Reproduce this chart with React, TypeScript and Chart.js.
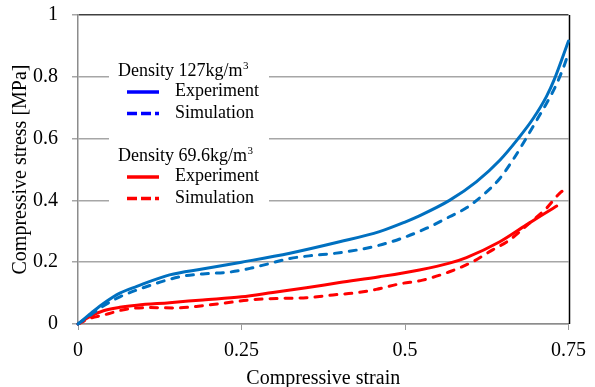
import { useEffect, useRef } from "react";
import { Chart, registerables } from "chart.js";

Chart.register(...registerables);

const FONT = '"Liberation Serif", "Times New Roman", serif';

// Density 127 kg/m3
const blueExpStrain = [0, 0.02, 0.04, 0.064, 0.09, 0.14, 0.19, 0.25, 0.324, 0.4, 0.461, 0.5, 0.522, 0.568, 0.609, 0.645, 0.673, 0.696, 0.716, 0.728, 0.75];
const blueExpStress = [0, 0.035, 0.068, 0.1, 0.122, 0.159, 0.178, 0.2, 0.229, 0.266, 0.299, 0.33, 0.35, 0.4, 0.46, 0.53, 0.6, 0.665, 0.735, 0.79, 0.916];
const blueSimStrain = [0, 0.02, 0.04, 0.064, 0.09, 0.156, 0.191, 0.232, 0.263, 0.288, 0.324, 0.36, 0.39, 0.428, 0.459, 0.492, 0.533, 0.568, 0.594, 0.619, 0.645, 0.665, 0.685, 0.706, 0.718, 0.731, 0.744, 0.748];
const blueSimStress = [0, 0.03, 0.06, 0.088, 0.11, 0.153, 0.162, 0.168, 0.18, 0.193, 0.212, 0.222, 0.228, 0.24, 0.254, 0.275, 0.31, 0.347, 0.376, 0.417, 0.471, 0.531, 0.6, 0.676, 0.72, 0.773, 0.84, 0.865];

// Density 69.6 kg/m3
const redExpStrain = [0, 0.018, 0.039, 0.064, 0.09, 0.14, 0.191, 0.25, 0.298, 0.349, 0.4, 0.461, 0.522, 0.568, 0.594, 0.645, 0.685, 0.726, 0.732];
const redExpStress = [0, 0.024, 0.043, 0.054, 0.061, 0.069, 0.078, 0.088, 0.102, 0.117, 0.134, 0.153, 0.175, 0.197, 0.215, 0.266, 0.32, 0.374, 0.382];
const redSimStrain = [0, 0.018, 0.039, 0.074, 0.11, 0.151, 0.181, 0.222, 0.263, 0.314, 0.349, 0.39, 0.426, 0.456, 0.492, 0.527, 0.568, 0.604, 0.634, 0.66, 0.69, 0.716, 0.736, 0.747];
const redSimStress = [0, 0.018, 0.029, 0.048, 0.053, 0.052, 0.057, 0.067, 0.078, 0.083, 0.085, 0.094, 0.101, 0.112, 0.13, 0.142, 0.169, 0.202, 0.24, 0.272, 0.326, 0.374, 0.422, 0.44];

const xTicks = [0, 0.25, 0.5, 0.75];
const xTickLabels = ["0", "0.25", "0.5", "0.75"];
const yTicks = [0, 0.2, 0.4, 0.6, 0.8, 1];
const yTickLabels = ["0", "0.2", "0.4", "0.6", "0.8", "1"];

const legendGroups = [
  { header: "Density 127kg/m", sup: "3", color: "#0000FF", items: ["Experiment", "Simulation"] },
  { header: "Density 69.6kg/m", sup: "3", color: "#FF0000", items: ["Experiment", "Simulation"] },
];

const BLUE = "#0070C0";
const RED = "#FF0000";

function pts(xs: number[], ys: number[]) {
  return xs.map((x, i) => ({ x, y: ys[i] }));
}

const overlayPlugin = {
  id: "overlay",
  beforeDatasetsDraw(chart: any) {
    const ctx = chart.ctx as CanvasRenderingContext2D;
    const { top, bottom, right } = chart.chartArea;
    ctx.save();
    // right border
    ctx.strokeStyle = "#000";
    ctx.lineWidth = 1.5;
    ctx.beginPath();
    ctx.moveTo(Math.round(right) + 0.5, top);
    ctx.lineTo(Math.round(right) + 0.5, bottom);
    ctx.stroke();

    // legend box
    ctx.fillStyle = "#fff";
    ctx.fillRect(109, 62, 160, 146);

    const groupTop = [76, 161];
    legendGroups.forEach((g, gi) => {
      const base = groupTop[gi];
      ctx.fillStyle = "#000";
      ctx.font = `18px ${FONT}`;
      ctx.textAlign = "left";
      ctx.textBaseline = "alphabetic";
      ctx.fillText(g.header, 118, base);
      const w = ctx.measureText(g.header).width;
      ctx.font = `11px ${FONT}`;
      ctx.fillText(g.sup, 118 + w + 0.5, base - 7);
      g.items.forEach((label, ii) => {
        const by = base + 20 + ii * 21.5;
        const ly = by - 4;
        ctx.strokeStyle = g.color;
        ctx.lineWidth = 3.5;
        ctx.lineCap = "butt";
        ctx.setLineDash(ii === 0 ? [] : [10, 4]);
        ctx.beginPath();
        ctx.moveTo(127, ly);
        ctx.lineTo(159, ly);
        ctx.stroke();
        ctx.setLineDash([]);
        ctx.fillStyle = "#000";
        ctx.font = `18px ${FONT}`;
        ctx.fillText(label, 175, by);
      });
    });
    ctx.restore();
  },
};

export default function App() {
  const canvasRef = useRef<HTMLCanvasElement | null>(null);

  useEffect(() => {
    document.body.style.margin = "0";
    const canvas = canvasRef.current;
    if (!canvas) return;
    const common = {
      pointRadius: 0,
      borderWidth: 3,
      fill: false,
      cubicInterpolationMode: "monotone" as const,
      borderCapStyle: "round" as const,
      borderJoinStyle: "round" as const,
    };
    const chart = new Chart(canvas, {
      type: "line",
      data: {
        datasets: [
          { ...common, label: "127 Experiment", data: pts(blueExpStrain, blueExpStress), borderColor: BLUE },
          { ...common, label: "127 Simulation", data: pts(blueSimStrain, blueSimStress), borderColor: BLUE, borderDash: [7, 8] },
          { ...common, label: "69.6 Experiment", data: pts(redExpStrain, redExpStress), borderColor: RED },
          { ...common, label: "69.6 Simulation", data: pts(redSimStrain, redSimStress), borderColor: RED, borderDash: [7, 8] },
        ],
      },
      options: {
        animation: false,
        responsive: false,
        devicePixelRatio: 1,
        clip: false as any,
        layout: { padding: { left: 0, right: 26, top: 15, bottom: 0 } },
        plugins: { legend: { display: false }, tooltip: { enabled: false } },
        scales: {
          x: {
            type: "linear",
            min: 0,
            max: 0.75,
            afterBuildTicks: (s: any) => {
              s.ticks = xTicks.map((v) => ({ value: v }));
            },
            afterFit: (s: any) => {
              s.height = 63;
            },
            ticks: {
              padding: 9,
              color: "#000",
              font: { family: FONT, size: 20 },
              maxRotation: 0,
              callback: (v: any) => {
                const i = xTicks.indexOf(Number(v));
                return i >= 0 ? xTickLabels[i] : "";
              },
            },
            grid: { drawOnChartArea: false, drawTicks: true, tickLength: 6, color: "#9a9a9a" },
            border: { color: "#8c8c8c", width: 1.5 },
            title: {
              display: true,
              text: "Compressive strain",
              color: "#000",
              font: { family: FONT, size: 20 },
              padding: { top: 0, bottom: -4 },
            },
          },
          y: {
            type: "linear",
            min: 0,
            max: 1,
            afterBuildTicks: (s: any) => {
              s.ticks = yTicks.map((v) => ({ value: v }));
            },
            afterFit: (s: any) => {
              s.width = 78;
              s.paddingTop = 0;
              s.paddingBottom = 0;
            },
            ticks: {
              padding: 14,
              color: "#000",
              font: { family: FONT, size: 20 },
              callback: (v: any) => {
                const i = yTicks.indexOf(Number(v));
                return i >= 0 ? yTickLabels[i] : "";
              },
            },
            grid: {
              drawTicks: true,
              tickLength: 6,
              lineWidth: 1.5,
              color: (c: any) => (c.tick && c.tick.value === 1 ? "#404040" : "#a6a6a6"),
              tickColor: "#a6a6a6",
            },
            border: { color: "#8c8c8c", width: 1.5 },
            title: {
              display: true,
              text: "Compressive stress [MPa]",
              color: "#000",
              font: { family: FONT, size: 20 },
              padding: { top: 9, bottom: 0 },
            },
          },
        },
      },
      plugins: [overlayPlugin],
    });
    return () => chart.destroy();
  }, []);

  return (
    <div style={{ width: 595, height: 387, background: "#fff" }}>
      <canvas ref={canvasRef} width={595} height={387} style={{ display: "block" }} />
    </div>
  );
}
